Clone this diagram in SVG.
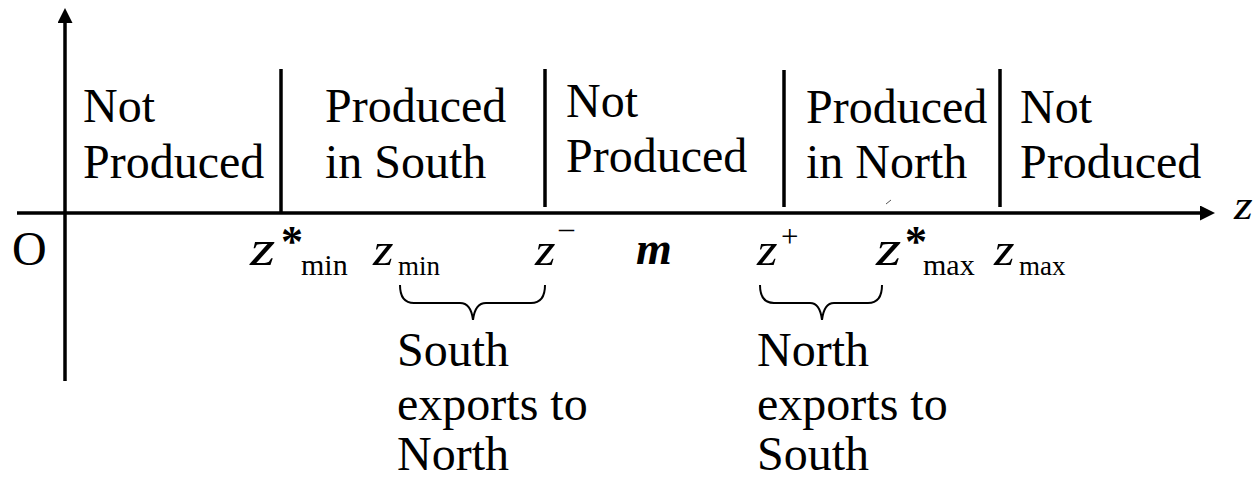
<svg xmlns="http://www.w3.org/2000/svg" width="1253" height="478" viewBox="0 0 1253 478">
<style>
text{font-family:"Liberation Serif","Times New Roman",serif;fill:#000}
.t{font-size:48px}
.v{font-style:italic;font-size:46px}
.vb{font-style:italic;font-size:50px}
.s{font-size:30px}
.s2{font-size:27px}
.ast{font-weight:bold;font-size:44px}
.ax{stroke:#000;stroke-width:3.5;fill:none}
.dv{stroke:#000;stroke-width:3.5;fill:none}
.br{stroke:#000;stroke-width:2;fill:none}
.mk{stroke:#555;stroke-width:1;fill:none}
</style>
<defs>
<marker id="ah" markerWidth="15" markerHeight="15" refX="0" refY="7.5" orient="auto" markerUnits="userSpaceOnUse">
<path d="M0,0 L15,7.5 L0,15 Z" fill="#000"/>
</marker>
</defs>
<rect width="1253" height="478" fill="#fff"/>
<g id="connectors">
<line class="ax" x1="65" y1="381" x2="65" y2="23" marker-end="url(#ah)"/>
<line class="ax" x1="17" y1="213" x2="1200" y2="213" marker-end="url(#ah)"/>
<line class="dv" x1="281" y1="69" x2="281" y2="213"/>
<line class="dv" x1="545" y1="69" x2="545" y2="207"/>
<line class="dv" x1="784" y1="70" x2="784" y2="207"/>
<line class="dv" x1="1000" y1="69" x2="1000" y2="207"/>
<path class="br" d="M400,285 Q400,303 414,303 L460,303 Q471,303 473,320 Q475,303 486,303 L531,303 Q545,303 545,285"/>
<path class="br" d="M760,285 Q760,303 774,303 L810,303 Q820,303 822,320 Q824,303 834,303 L868,303 Q882,303 882,285"/>
<line class="mk" x1="886" y1="204" x2="891" y2="200"/>
</g>
<g id="region-not-produced-1">
<text class="t" x="83" y="122">Not</text>
<text class="t" x="83" y="178">Produced</text>
</g>
<g id="region-produced-south">
<text class="t" x="325" y="122">Produced</text>
<text class="t" x="325" y="178">in South</text>
</g>
<g id="region-not-produced-2">
<text class="t" x="566" y="117">Not</text>
<text class="t" x="566" y="172">Produced</text>
</g>
<g id="region-produced-north">
<text class="t" x="806" y="123">Produced</text>
<text class="t" x="806" y="178">in North</text>
</g>
<g id="region-not-produced-3">
<text class="t" x="1020" y="123">Not</text>
<text class="t" x="1020" y="178">Produced</text>
</g>
<g id="axis-labels">
<text class="t" x="12" y="265">O</text>
<text class="v" transform="translate(1234,219) scale(1.2,1)" style="font-size:40px">z</text>
<text class="vb" transform="translate(250,265) scale(1.3,1)">z</text><text class="ast" x="281" y="256">*</text><text class="s" x="301" y="275">min</text>
<text class="v" transform="translate(373,265) scale(1.15,1)">z</text><text class="s2" x="398" y="275">min</text>
<text class="v" transform="translate(535,265) scale(1.15,1)">z</text><text class="s" x="559" y="238">–</text>
<text class="v" x="636" y="264" style="font-weight:bold">m</text>
<text class="v" transform="translate(757,265) scale(1.15,1)">z</text><text class="s" x="781" y="247" style="font-size:31px">+</text>
<text class="vb" transform="translate(876,265) scale(1.3,1)">z</text><text class="ast" x="905" y="256">*</text><text class="s" x="923" y="275">max</text>
<text class="v" transform="translate(994,265) scale(1.15,1)">z</text><text class="s2" x="1019" y="275">max</text>
</g>
<g id="south-exports">
<text class="t" x="397" y="366">South</text>
<text class="t" x="397" y="420">exports to</text>
<text class="t" x="397" y="470">North</text>
</g>
<g id="north-exports">
<text class="t" x="757" y="366">North</text>
<text class="t" x="757" y="420">exports to</text>
<text class="t" x="757" y="470">South</text>
</g>
</svg>
